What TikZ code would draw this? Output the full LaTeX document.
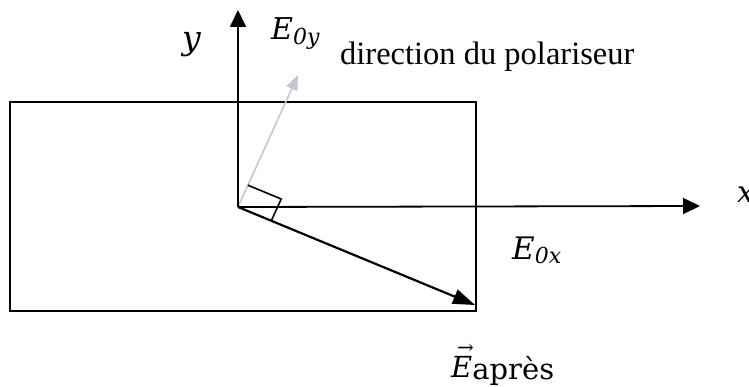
\documentclass[tikz,border=0pt]{standalone}
\usepackage{fix-cm}
\usepackage{fontspec}
\setmainfont{Liberation Serif}
\newfontfamily\lblfont{DejaVu Serif}
\usetikzlibrary{arrows.meta}
\newcommand\lblsub[2]{\raisebox{-#1}{\fontsize{22}{24}\selectfont #2}}
\newcommand\vecmark{\rlap{\hspace{6pt}\raisebox{22.5pt}{\upshape\fontsize{20}{20}\selectfont →}}}
\begin{document}
\begin{tikzpicture}[x=1pt,y=-1pt,
  line/.style={line width=1.8pt, black},
  axis/.style={line, -{Triangle[length=17pt,width=16pt]}},
  vecarrow/.style={line width=2.2pt, black, -{Triangle[length=22pt,width=15pt]}},
  polar/.style={line width=1.6pt, color={rgb,255:red,198;green,198;blue,208}, -{Triangle[length=15pt,width=12pt]}},
  mathlbl/.style={inner sep=0pt, anchor=base west, font=\lblfont\fontsize{30}{34}\selectfont},
  txtlbl/.style={inner sep=0pt, anchor=base west, font=\fontsize{32.5}{38}\selectfont}
]
\useasboundingbox (0,0) rectangle (749,387);
% plate
\node[draw, line width=1.8pt, minimum width=466pt, minimum height=209pt, inner sep=0pt] (plate) at (243,206.5) {};
% points
\coordinate (O) at (238,207);
\coordinate (Y) at (238,10);
\coordinate (X) at (700,206);
\coordinate (P) at (298,75);
\coordinate (A) at (475,305);
\coordinate (R1) at (247.9,185.2);
\coordinate (R2) at (281.2,199);
\coordinate (R3) at (271.3,220.8);
% polarizer direction
\draw[polar] (O) -- (P);
% axes
\draw[axis] (O) -- (Y);
\draw[axis] (O) -- (X);
% field after
\draw[vecarrow] (O) -- (A);
% right angle
\draw[line, line width=1.6pt] (R1) -- (R2) -- (R3);
% labels
\node[mathlbl, font=\lblfont\itshape\fontsize{33}{36}\selectfont] (ylbl) at (182,50) {y};
\node[mathlbl, font=\lblfont\itshape\fontsize{30}{34}\selectfont] (xlbl) at (737,203) {x};
\node[mathlbl] (e0y) at (271,40) {\itshape E\lblsub{5pt}{0\itshape y}};
\node[mathlbl, font=\lblfont\fontsize{31}{34}\selectfont] (e0x) at (512,259) {\itshape E\lblsub{5pt}{0\itshape x}};
\node[mathlbl, font=\lblfont\fontsize{29}{32}\selectfont] (eapres) at (451,377) {\vecmark{\itshape E}\raisebox{-2pt}{après}};
\node[txtlbl] (dir) at (340,65) {direction du polariseur};
\end{tikzpicture}
\end{document}
